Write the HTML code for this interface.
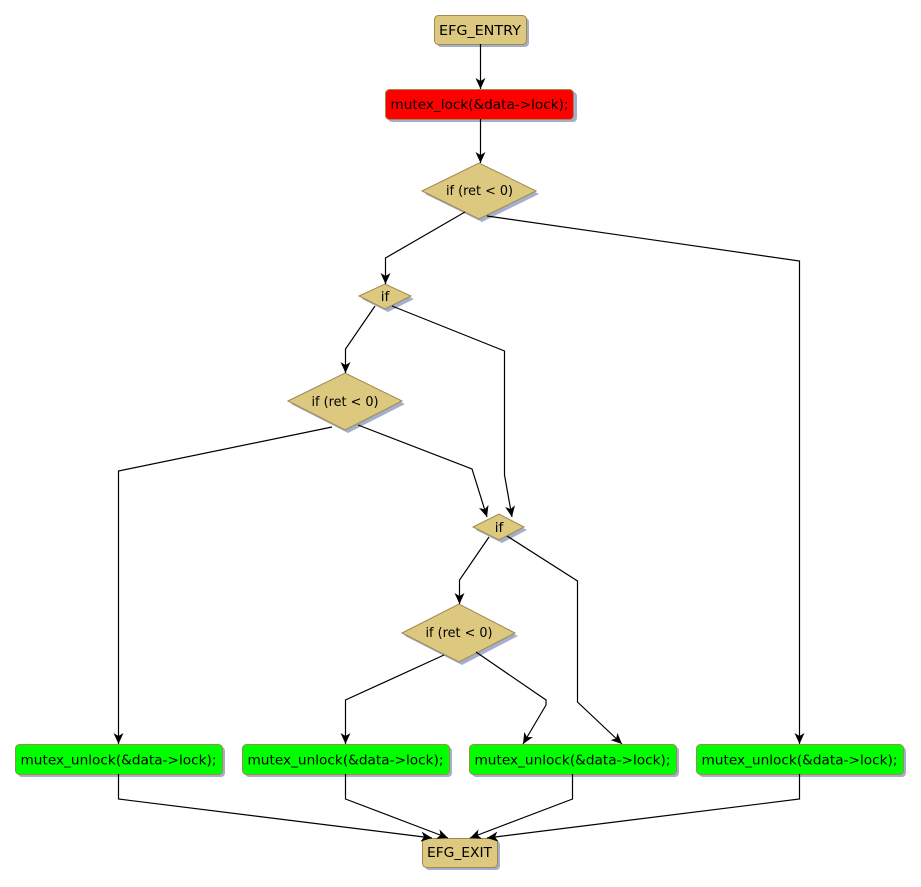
<!DOCTYPE html>
<html><head><meta charset="utf-8"><style>
html,body{margin:0;padding:0;background:#fff;}
svg{display:block;}
text{font-family:"DejaVu Sans","Liberation Sans",sans-serif;font-size:13.7px;fill:#000;}
</style></head><body>
<svg width="921" height="887" viewBox="0 0 921 887" xmlns="http://www.w3.org/2000/svg">
<defs>
<marker id="a" markerUnits="userSpaceOnUse" markerWidth="12" markerHeight="10" refX="11" refY="5" orient="auto">
<path d="M0,0 L11,5 L0,10 L3,5 z" fill="#000"/>
</marker>
</defs>
<g fill="#a3b0cc">
<rect x="437" y="18" width="92" height="29" rx="4"/>
<rect x="388" y="92" width="189" height="30" rx="4"/>
<polygon points="425,194 482,166 539,194 482,222"/>
<polygon points="362,299 388,287 414,299 388,312"/>
<polygon points="291,404 348,376 405,404 348,433"/>
<polygon points="476,530 502,517 527,530 502,543"/>
<polygon points="405,636 462,607 518,636 462,665"/>
<rect x="18" y="747" width="207" height="30" rx="4"/>
<rect x="245" y="747" width="207" height="30" rx="4"/>
<rect x="472" y="747" width="207" height="30" rx="4"/>
<rect x="699" y="747" width="207" height="30" rx="4"/>
<rect x="425" y="841" width="75" height="29" rx="4"/>
</g>
<g stroke="#a08850" stroke-width="1">
<rect x="434.5" y="15.5" width="92" height="29" rx="4" fill="#dcc87f"/>
<rect x="385.5" y="89.5" width="188" height="30" rx="4" fill="#ff0000"/>
<polygon points="422,191 479,163 536,191 479,219" fill="#dcc87f"/>
<polygon points="359,296 385,284 411,296 385,309" fill="#dcc87f"/>
<polygon points="288,401 345,373 402,401 345,430" fill="#dcc87f"/>
<polygon points="473,527 499,514 524,527 499,540" fill="#dcc87f"/>
<polygon points="402,633 459,604 515,633 459,662" fill="#dcc87f"/>
<rect x="15.5" y="744.5" width="207" height="30" rx="4" fill="#00ff00"/>
<rect x="242.5" y="744.5" width="207" height="30" rx="4" fill="#00ff00"/>
<rect x="469.5" y="744.5" width="207" height="30" rx="4" fill="#00ff00"/>
<rect x="696.5" y="744.5" width="207" height="30" rx="4" fill="#00ff00"/>
<rect x="422.5" y="838.5" width="75" height="29" rx="4" fill="#dcc87f"/>
</g>
<g fill="none" stroke="#000" stroke-width="1.2" marker-end="url(#a)">
<path d="M480.5,44 L480.5,89"/>
<path d="M480.5,119 L480.5,163"/>
<path d="M465,212 L385.5,258 L385.5,284"/>
<path d="M487,216 L799.5,261 L799.5,744"/>
<path d="M375,306 L345.5,349 L345.5,373"/>
<path d="M392,306 L504.5,351 L504.5,475 L512,517"/>
<path d="M332,427 L118.5,471 L118.5,744"/>
<path d="M358,425 L472,469 L487,517"/>
<path d="M489,537 L459.5,580 L459.5,604"/>
<path d="M507,536 L577.5,581 L577.5,702 L622,744"/>
<path d="M444,655 L345.5,700 L345.5,744"/>
<path d="M476,652 L546,700 L546,705 L523,744"/>
<path d="M118.5,774 L118.5,799 L432,838"/>
<path d="M345.5,774 L345.5,799 L448,838"/>
<path d="M572.5,774 L572.5,799 L470,838"/>
<path d="M799.5,774 L799.5,799 L487,838"/>
</g>
<g text-anchor="middle">
<text x="480" y="35" textLength="82" lengthAdjust="spacingAndGlyphs">EFG_ENTRY</text>
<text x="479.5" y="109" textLength="178" lengthAdjust="spacingAndGlyphs">mutex_lock(&amp;data-&gt;lock);</text>
<text x="479.5" y="195" textLength="67" lengthAdjust="spacingAndGlyphs">if (ret &lt; 0)</text>
<text x="385" y="301">if</text>
<text x="345" y="406" textLength="67" lengthAdjust="spacingAndGlyphs">if (ret &lt; 0)</text>
<text x="499" y="532">if</text>
<text x="459" y="637" textLength="67" lengthAdjust="spacingAndGlyphs">if (ret &lt; 0)</text>
<text x="118.5" y="764.5" textLength="196" lengthAdjust="spacingAndGlyphs">mutex_unlock(&amp;data-&gt;lock);</text>
<text x="345.5" y="764.5" textLength="196" lengthAdjust="spacingAndGlyphs">mutex_unlock(&amp;data-&gt;lock);</text>
<text x="572.5" y="764.5" textLength="196" lengthAdjust="spacingAndGlyphs">mutex_unlock(&amp;data-&gt;lock);</text>
<text x="799.5" y="764.5" textLength="196" lengthAdjust="spacingAndGlyphs">mutex_unlock(&amp;data-&gt;lock);</text>
<text x="459.5" y="857" textLength="65" lengthAdjust="spacingAndGlyphs">EFG_EXIT</text>
</g>
</svg>
</body></html>
